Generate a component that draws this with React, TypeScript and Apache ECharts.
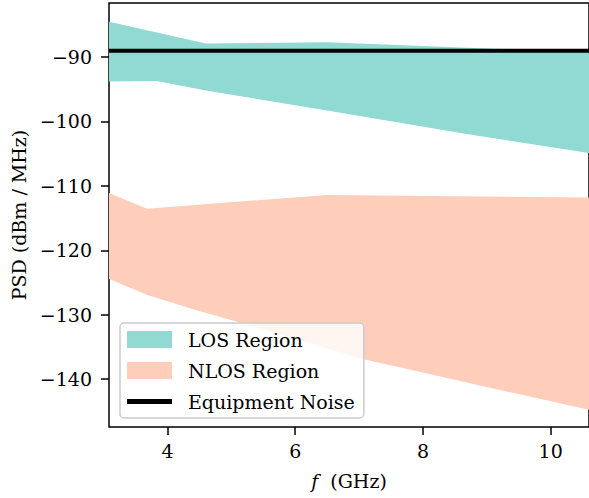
import React, { useEffect, useRef } from "react";
import * as echarts from "echarts";

// LOS region boundaries (GHz, dBm/MHz)
const losUpperF = [3.084, 4.6, 6.5, 9.1, 10.6];
const losUpperP = [-84.5, -87.9, -87.7, -88.7, -89.0];
const losLowerF = [3.084, 3.83, 4.6, 6.5, 8.66, 10.6];
const losLowerP = [-93.8, -93.7, -95.2, -98.3, -101.9, -104.9];

// NLOS region boundaries
const nlosUpperF = [3.084, 3.68, 6.5, 10.6];
const nlosUpperP = [-111.1, -113.56, -111.4, -111.8];
const nlosLowerF = [3.084, 3.685, 4.44, 5.27, 6.06, 7.05, 8.05, 9.08, 10.6];
const nlosLowerP = [-124.47, -126.96, -129.29, -131.61, -133.94, -136.89, -139.11, -141.44, -144.78];

// Equipment noise floor
const noiseF = [3.084, 10.6];
const noiseP = [-89, -89];

const yTicks = [-140, -130, -120, -110, -100, -90];
const xTicks = [4, 6, 8, 10];

const FONT = "'DejaVu Serif'";
const FS = 19;

function band(upF: number[], upP: number[], loF: number[], loP: number[], color: string) {
  return (params: any, api: any) => {
    const pts: number[][] = [];
    for (let i = 0; i < upF.length; i++) pts.push(api.coord([upF[i], upP[i]]));
    for (let i = loF.length - 1; i >= 0; i--) pts.push(api.coord([loF[i], loP[i]]));
    return { type: "polygon", shape: { points: pts }, style: { fill: color } };
  };
}

const minus = (v: number) => (v < 0 ? "\u2212" + Math.abs(v) : String(v));

export default function App() {
  const ref = useRef<HTMLDivElement>(null);
  useEffect(() => {
    if (!ref.current) return;
    const chart = echarts.init(ref.current, undefined, { renderer: "svg" });
    const LOS = "#91d9d3";
    const NLOS = "#fecebb";
    const txt = { color: "#000", fontSize: FS, fontFamily: FONT };
    chart.setOption({
      animation: false,
      backgroundColor: "#ffffff",
      textStyle: { fontFamily: FONT, fontSize: FS },
      grid: {
        left: 109,
        top: 3,
        bottom: 71,
        right: -2,
        show: true,
        borderColor: "#000",
        borderWidth: 1.5,
        backgroundColor: "transparent",
      },
      xAxis: {
        type: "value",
        min: 3.084,
        max: 10.6,
        splitLine: { show: false },
        axisLine: { show: false },
        axisTick: { show: true, length: 8, lineStyle: { color: "#000", width: 1.5 }, customValues: xTicks },
        axisLabel: { ...txt, margin: 14, customValues: xTicks, formatter: (v: number) => minus(v) },
        name: "{i|f}(GHz)",
        nameLocation: "middle",
        nameGap: 44,
        nameTextStyle: {
          ...txt,
          rich: { i: { ...txt, fontStyle: "italic", padding: [0, 12, 0, 0] } },
        },
      },
      yAxis: {
        type: "value",
        min: -147.45,
        max: -81.6,
        splitLine: { show: false },
        axisLine: { show: false },
        axisTick: { show: true, length: 8, lineStyle: { color: "#000", width: 1.5 }, customValues: yTicks },
        axisLabel: { ...txt, margin: 17, customValues: yTicks, formatter: (v: number) => minus(v) },
        name: "PSD (dBm / MHz)",
        nameLocation: "middle",
        nameGap: 76,
        nameTextStyle: { ...txt },
      },
      legend: {
        orient: "vertical",
        left: 120,
        top: 323,
        padding: [7, 9, 7, 7],
        itemWidth: 45,
        itemHeight: 17,
        itemGap: 12,
        symbolKeepAspect: true,
        backgroundColor: "rgba(255,255,255,0.8)",
        borderColor: "#cccccc",
        borderWidth: 1.5,
        borderRadius: 4,
        textStyle: { ...txt, padding: [0, 0, 0, 11] },
        data: [
          { name: "LOS Region", icon: "rect" },
          { name: "NLOS Region", icon: "rect" },
          { name: "Equipment Noise", icon: "path://M0,0H45V5H0Z", itemStyle: { color: "#000" } },
        ],
      },
      series: [
        {
          name: "LOS Region",
          type: "custom",
          renderItem: band(losUpperF, losUpperP, losLowerF, losLowerP, LOS),
          itemStyle: { color: LOS },
          data: [[losUpperF[0], losUpperP[0]]],
          z: 1,
        },
        {
          name: "NLOS Region",
          type: "custom",
          renderItem: band(nlosUpperF, nlosUpperP, nlosLowerF, nlosLowerP, NLOS),
          itemStyle: { color: NLOS },
          data: [[nlosUpperF[0], nlosUpperP[0]]],
          z: 1,
        },
        {
          name: "Equipment Noise",
          type: "line",
          data: noiseF.map((f, i) => [f, noiseP[i]]),
          symbol: "none",
          showSymbol: false,
          lineStyle: { color: "#000", width: 4 },
          itemStyle: { color: "#000" },
          z: 3,
        },
      ],
    });
    return () => chart.dispose();
  }, []);
  return (
    <div
      ref={ref}
      style={{ position: "fixed", left: 0, top: 0, width: 589, height: 498, background: "#fff" }}
    />
  );
}
